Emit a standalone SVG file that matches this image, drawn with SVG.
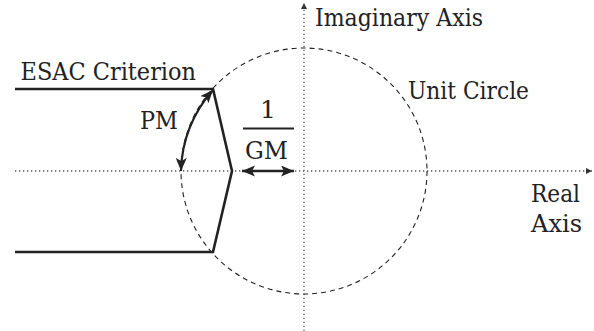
<svg xmlns="http://www.w3.org/2000/svg" width="594" height="331" viewBox="0 0 594 331">
<style>
.t{font-family:'DejaVu Serif','Liberation Serif',serif;font-size:25px;fill:#222}
.axis{stroke:#555;stroke-width:1.3;stroke-dasharray:1.3 2.7;fill:none}
.thick{stroke:#222;stroke-width:2.6;fill:none;stroke-linejoin:miter}
.dash{stroke:#222;stroke-width:1.1;stroke-dasharray:5 4;fill:none}
</style>
<defs>
<marker id="ah" markerUnits="userSpaceOnUse" markerWidth="16" markerHeight="14" refX="13" refY="5.5" orient="auto-start-reverse" viewBox="0 0 16 14">
<path d="M0,0 L13,5.5 L0,11 L3,5.5 Z" fill="#222"/>
</marker>
<marker id="sa" markerUnits="userSpaceOnUse" markerWidth="8" markerHeight="8" refX="6" refY="3" orient="auto" viewBox="0 0 8 8">
<path d="M0,0 L6,3 L0,6 Z" fill="#333"/>
</marker>
</defs>
<g id="axes">
<line class="axis" x1="15" y1="171" x2="592" y2="171" marker-end="url(#sa)"/>
<line class="axis" x1="304" y1="331" x2="304" y2="3" marker-end="url(#sa)"/>
</g>
<g id="unit-circle">
<circle class="dash" cx="304" cy="171" r="123"/>
</g>
<g id="esac">
<path class="thick" d="M15 89 L213 89 L232 171 L213 252 L15 252"/>
</g>
<g id="connectors">
<path d="M213 90 A125 125 0 0 0 181 171" fill="none" stroke="#222" stroke-width="2.2" marker-start="url(#ah)" marker-end="url(#ah)"/>
<line x1="242" y1="171" x2="294" y2="171" stroke="#222" stroke-width="2.4" marker-start="url(#ah)" marker-end="url(#ah)"/>
</g>
<g id="labels">
<text class="t" x="20.5" y="80" textLength="175.5" lengthAdjust="spacingAndGlyphs">ESAC Criterion</text>
<text class="t" x="140" y="129" textLength="38" lengthAdjust="spacingAndGlyphs">PM</text>
<text class="t" x="268" y="118" text-anchor="middle">1</text>
<line x1="243" y1="128.5" x2="294" y2="128.5" stroke="#222" stroke-width="1.8"/>
<text class="t" x="245" y="159" textLength="43" lengthAdjust="spacingAndGlyphs">GM</text>
<text class="t" x="315" y="26" textLength="168" lengthAdjust="spacingAndGlyphs">Imaginary Axis</text>
<text class="t" x="408" y="99" textLength="121" lengthAdjust="spacingAndGlyphs">Unit Circle</text>
<text class="t" x="531" y="202" textLength="49" lengthAdjust="spacingAndGlyphs">Real</text>
<text class="t" x="531" y="232" textLength="51" lengthAdjust="spacingAndGlyphs">Axis</text>
</g>
</svg>
